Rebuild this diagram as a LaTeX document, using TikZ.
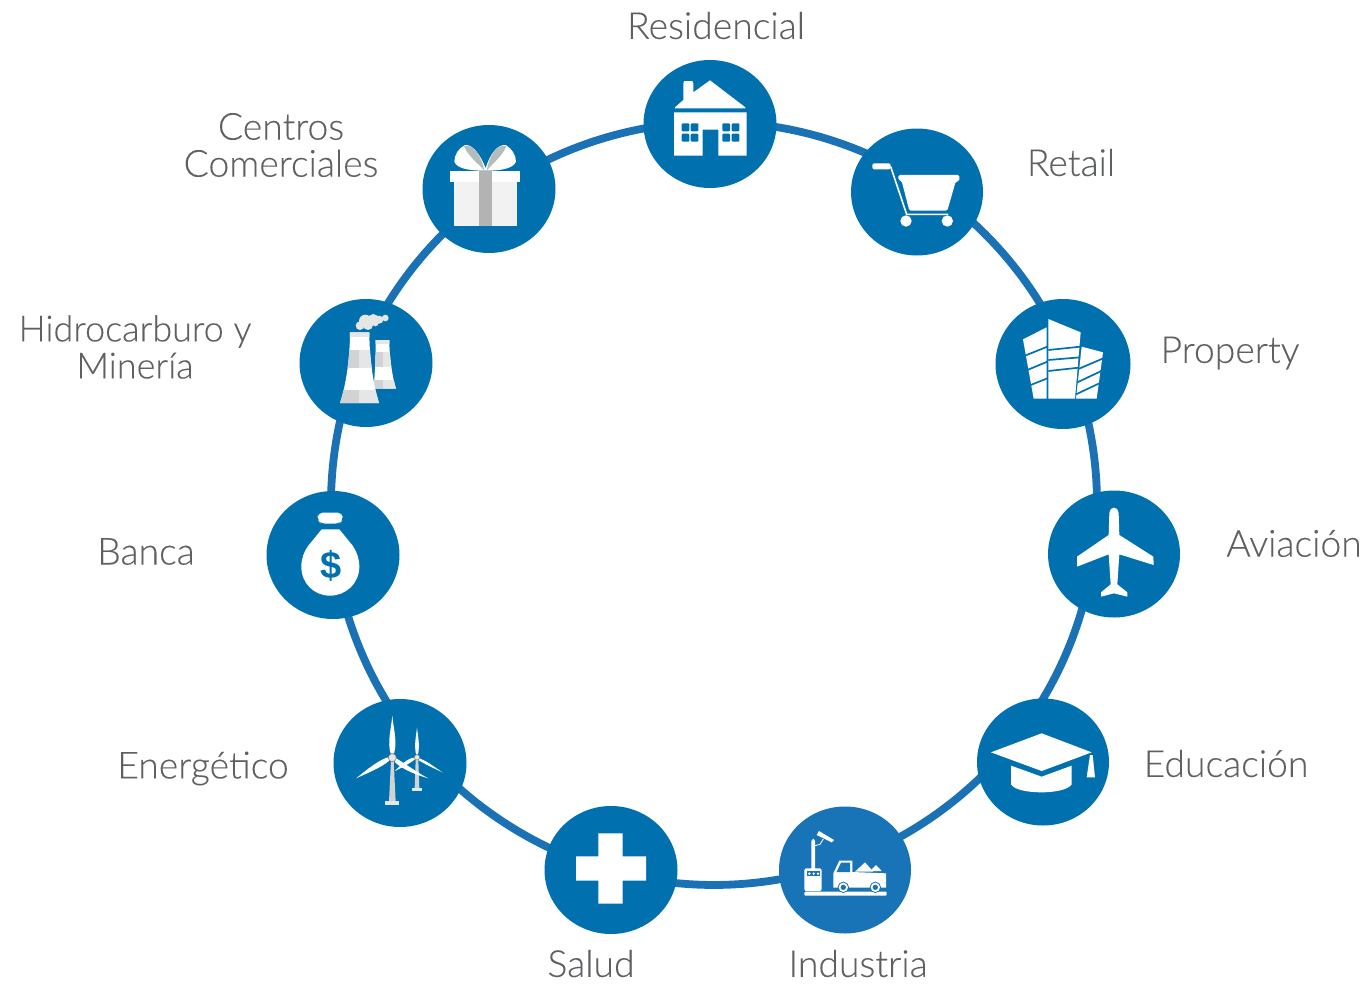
\documentclass[tikz,border=0pt]{standalone}
\usepackage{fontspec}
\setmainfont[FakeBold=0.15]{Lato Light}
\newfontfamily\dollarfont{Liberation Sans}
\usetikzlibrary{shapes.geometric,backgrounds}
\definecolor{hub}{HTML}{0071AE}
\definecolor{hubalt}{HTML}{1874B6}
\definecolor{ring}{HTML}{1A72B5}
\definecolor{labelgrey}{HTML}{5F6062}
\definecolor{palea}{HTML}{E5E7E7}
\definecolor{paleb}{HTML}{D0D2D3}
\definecolor{bowgrey}{HTML}{B4BCBC}
\definecolor{boxgrey}{HTML}{F2F2F2}
\definecolor{ribbon}{HTML}{B3B3B3}
\tikzset{
  hubnode/.style={ellipse,draw=none,fill=hub,inner sep=0pt,minimum width=133pt,minimum height=128pt},
  lbl/.style={text=labelgrey,font=\fontsize{37.3}{37}\selectfont,align=center,inner sep=0pt},
  ringline/.style={draw=ring,line width=7.8pt,looseness=0.87},
  cut/.style={draw=hub,line width=1.7pt},
  zoomed/.style={shift={#1},scale=0.33333},
}
\newcommand{\ringpoint}[2]{\coordinate (#1) at ({714+383*cos(#2)},{503.5-381.5*sin(#2)});}
\begin{document}
\begin{tikzpicture}[x=1pt,y=-1pt]
\useasboundingbox (0,0) rectangle (1369,985);
% hubs
\node[hubnode] (res) at (710,124) {};
\node[hubnode,minimum width=132pt,minimum height=127pt] (ret) at (917,192) {};
\node[hubnode,minimum width=135pt,minimum height=130pt] (pro) at (1063,364) {};
\node[hubnode,minimum width=132pt,minimum height=127pt] (avi) at (1114,554) {};
\node[hubnode,minimum width=132pt,minimum height=127pt] (edu) at (1043,762) {};
\node[hubnode,fill=hubalt,minimum width=132pt,minimum height=127pt] (ind) at (845,870) {};
\node[hubnode] (sal) at (611,870) {};
\node[hubnode] (ene) at (400,763) {};
\node[hubnode] (ban) at (333,555) {};
\node[hubnode] (hid) at (366,363) {};
\node[hubnode] (cen) at (489,189) {};
% ring: one point of the true circle behind each hub
\ringpoint{pres}{90.6}
\ringpoint{pret}{56.9}
\ringpoint{ppro}{21.7}
\ringpoint{pavi}{-7.3}
\ringpoint{pedu}{-38.2}
\ringpoint{pind}{-70.4}
\ringpoint{psal}{-105.7}
\ringpoint{pene}{-140.4}
\ringpoint{pban}{-172.2}
\ringpoint{phid}{158.1}
\ringpoint{pcen}{125.6}
\begin{pgfonlayer}{background}
\draw[ringline] (pres) to[bend left=16.9] (pret);
\draw[ringline] (pret) to[bend left=17.6] (ppro);
\draw[ringline] (ppro) to[bend left=14.5] (pavi);
\draw[ringline] (pavi) to[bend left=15.5] (pedu);
\draw[ringline] (pedu) to[bend left=16] (pind);
\draw[ringline] (pind) to[bend left=17.6] (psal);
\draw[ringline] (psal) to[bend left=17.3] (pene);
\draw[ringline] (pene) to[bend left=16] (pban);
\draw[ringline] (pban) to[bend left=14.9] (phid);
\draw[ringline] (phid) to[bend left=16.3] (pcen);
\draw[ringline] (pcen) to[bend left=17.5] (pres);
\end{pgfonlayer}
% labels
\node[lbl] (tres) at (716,25.5) {Residencial};
\node[lbl] (tret) at (1071,162.5) {Retail};
\node[lbl] (tpro) at (1230,353) {Property};
\node[lbl] (tavi) at (1294,543.5) {Aviación};
\node[lbl] (tedu) at (1226,763.5) {Educación};
\node[lbl] (tind) at (858,963.5) {Industria};
\node[lbl] (tsal) at (591,963.5) {Salud};
\node[lbl] (tene) at (203,768.5) {Energético};
\node[lbl] (tban) at (146,551.5) {Banca};
\node[lbl,font=\fontsize{36}{37}\selectfont] (thid) at (135,347) {Hidrocarburo y\\Minería};
\node[lbl] (tcen) at (281,145) {Centros\\Comerciales};
% house
\begin{scope}[zoomed={(640,55)}]
\fill[white] (105,157) -- (130,135) -- (130,85) -- (133,78) -- (157,78) -- (160,85) -- (160,112) -- (210,76) -- (316,157) -- (316,160) -- (105,160) -- cycle;
\fill[white] (102,172) -- (320,172) -- (320,302) -- (235,302) -- (235,224) -- (188,224) -- (188,302) -- (102,302) -- cycle;
\foreach \x in {125,152,247,275} \foreach \y in {205,236}
  \fill[hub,rounded corners=1pt] (\x,\y) rectangle +(23,24);
% cart
\fill[white,rounded corners=2pt] (697,325) rectangle (752,343);
\draw[white,line width=1.6pt] (752,335) -- (800,478) -- (925,478);
\fill[white,rounded corners=1.5pt] (775,360) -- (958,360) -- (958,378) -- (947,380) -- (922,467) -- (808,467) -- (785,378) -- (775,375) -- cycle;
\fill[white] (798,498) circle (17) (922,498) circle (17);
\end{scope}
% property + plane
\begin{scope}[zoomed={(990,295)}]
\fill[white] (99,133) -- (170,97) -- (170,311) -- (131,311) -- cycle;
\fill[white] (175,72) -- (272,112) -- (255,311) -- (175,311) -- cycle;
\fill[white] (275,155) -- (339,172) -- (320,311) -- (258,311) -- cycle;
\draw[cut] (105,182) -- (172,155) (112,225) -- (172,200) (122,270) -- (172,250);
\draw[cut] (175,165) -- (272,155) (175,195) -- (270,187) (175,228) -- (267,218);
\draw[cut] (265,222) -- (340,190) (262,262) -- (334,228) (258,298) -- (328,265);
\fill[white] (358,655) .. controls (360,642) and (366,638) .. (372,638) .. controls (378,638) and (384,642) .. (386,655) -- (388,720) -- (490,785) -- (491,810) -- (388,778) -- (382,868) -- (412,892) -- (412,905) -- (372,895) -- (333,905) -- (333,892) -- (362,868) -- (356,778) -- (261,815) -- (261,785) -- (356,720) -- cycle;
\end{scope}
% cap + industry
\begin{scope}[zoomed={(770,695)}]
\fill[white] (663,172) -- (815,115) -- (965,172) -- (815,228) -- cycle;
\fill[white] (723,212) -- (815,245) -- (905,212) -- (905,268) .. controls (895,285) and (850,292) .. (815,292) .. controls (775,292) and (733,285) .. (723,268) -- cycle;
\fill[white] (960,180) -- (968,180) -- (975,247) -- (950,247) -- cycle;
\fill[white] (124,438) -- (130,431) -- (135,438) -- (135,522) -- (124,522) -- cycle;
\fill[white] (147,408) -- (192,435) -- (185,442) -- (140,420) -- cycle;
\draw[white,line width=0.8pt] (135,452) -- (150,448) -- (160,432);
\fill[white,rounded corners=2pt] (103,520) rectangle (155,588);
\fill[hubalt] (112,528) rectangle (150,544);
\fill[white] (118,536) circle (4) (131,536) circle (4) (144,536) circle (4);
\fill[white,rounded corners=1pt] (103,590) rectangle (350,602);
\fill[white] (190,535) -- (208,497) -- (247,497) -- (247,531) -- (348,535) -- (348,578) -- (190,578) -- cycle;
\fill[hubalt] (200,531) -- (213,503) -- (240,503) -- (240,531) -- cycle;
\fill[white] (255,530) -- (285,502) -- (310,530) -- cycle;
\fill[white] (300,528) -- (318,510) -- (335,528) -- cycle;
\foreach \x in {220,316} {
  \fill[hubalt] (\x,577) circle (17);
  \fill[white] (\x,577) circle (14);
  \fill[hubalt] (\x,577) circle (8);
}
\end{scope}
% cross + turbines
\begin{scope}[zoomed={(330,695)}]
\fill[white] (805,415) -- (878,415) -- (878,484) -- (948,484) -- (948,557) -- (878,557) -- (878,626) -- (805,626) -- (805,557) -- (738,557) -- (738,484) -- (805,484) -- cycle;
% small turbine
\fill[paleb] (257,195) -- (265,195) -- (268,280) -- (254,280) -- cycle;
\fill[palea] (246,279) rectangle (276,288);
\fill[white] (261,98) .. controls (264,125) and (270,150) .. (264,178) -- (258,178) .. controls (252,150) and (258,125) .. (261,98) -- cycle;
\fill[white] (338,232) .. controls (315,218) and (295,200) .. (268,190) -- (266,196) .. controls (290,210) and (315,222) .. (338,232) -- cycle;
\fill[white] (195,228) .. controls (215,218) and (240,205) .. (256,192) -- (250,188) .. controls (230,192) and (210,212) .. (195,228) -- cycle;
\filldraw[fill=palea,draw=gray,line width=0.4pt] (261,187) circle (8);
% big turbine
\fill[paleb] (183,195) -- (191,195) -- (197,320) -- (177,320) -- cycle;
\fill[palea] (165,319) rectangle (207,330);
\fill[white] (187,62) .. controls (190,100) and (203,140) .. (192,176) -- (182,176) .. controls (171,140) and (184,100) .. (187,62) -- cycle;
\fill[white] (78,250) .. controls (110,235) and (150,220) .. (178,197) -- (174,187) .. controls (145,195) and (110,225) .. (78,250) -- cycle;
\fill[white] (295,250) .. controls (265,235) and (225,205) .. (198,190) -- (194,201) .. controls (220,225) and (260,240) .. (295,250) -- cycle;
\filldraw[fill=palea,draw=gray,line width=0.5pt] (187,188) circle (12);
\end{scope}
% towers + bag
\begin{scope}[zoomed={(260,295)}]
\begin{scope}
\clip (347,135) -- (388,135) .. controls (388,190) and (398,250) .. (408,281) -- (340,281) .. controls (345,240) and (347,190) .. (347,135) -- cycle;
\fill[white] (330,130) rectangle (415,285);
\fill[palea] (330,135) rectangle (415,147);
\fill[paleb] (330,170) rectangle (368,215);
\fill[palea] (368,170) rectangle (415,215);
\fill[paleb] (330,255) rectangle (368,285);
\fill[palea] (368,255) rectangle (415,285);
\end{scope}
\begin{scope}
\clip (270,112) -- (328,112) .. controls (328,190) and (340,270) .. (357,324) -- (240,324) .. controls (258,270) and (270,190) .. (270,112) -- cycle;
\fill[white] (235,105) rectangle (360,330);
\fill[palea] (235,112) rectangle (360,127);
\fill[paleb] (235,165) rectangle (298,218);
\fill[palea] (298,165) rectangle (360,218);
\fill[paleb] (235,285) rectangle (298,330);
\fill[palea] (298,285) rectangle (360,330);
\end{scope}
\fill[palea] (300,92) circle (13) (316,78) circle (19) (340,74) circle (17) (324,90) circle (15) (358,74) circle (12) (376,69) circle (10) (346,84) circle (10);
\fill[white,rounded corners=5pt] (173,653) -- (248,653) -- (248,675) -- (238,686) -- (183,686) -- (173,675) -- cycle;
\fill[white] (185,703) -- (238,703) -- (278,752) .. controls (290,770) and (298,790) .. (298,815) .. controls (298,865) and (258,902) .. (210,902) .. controls (162,902) and (124,865) .. (124,815) .. controls (124,790) and (132,770) .. (145,752) -- cycle;
\node[text=hub,font=\dollarfont\bfseries\fontsize{38}{38}\selectfont,inner sep=0pt] (dollar) at (212,812) {\$};
\end{scope}
% gift
\begin{scope}[zoomed={(415,120)}]
\fill[white] (150,75) .. controls (130,85) and (118,105) .. (118,125) .. controls (125,145) and (160,152) .. (208,152) -- (212,152) -- (215,152) .. controls (260,152) and (295,145) .. (303,125) .. controls (303,105) and (290,85) .. (272,75) .. controls (250,72) and (225,100) .. (212,145) .. controls (195,100) and (170,72) .. (150,75) -- cycle;
\fill[bowgrey] (147,78) .. controls (175,70) and (200,110) .. (208,152) .. controls (190,130) and (160,110) .. (147,78) -- cycle;
\fill[bowgrey] (274,78) .. controls (245,70) and (222,110) .. (215,152) .. controls (232,130) and (262,110) .. (274,78) -- cycle;
\fill[white] (105,153) rectangle (315,186);
\fill[boxgrey] (117,186) rectangle (306,318);
\fill[ribbon] (192,153) rectangle (232,318);
\end{scope}
\end{tikzpicture}
\end{document}
